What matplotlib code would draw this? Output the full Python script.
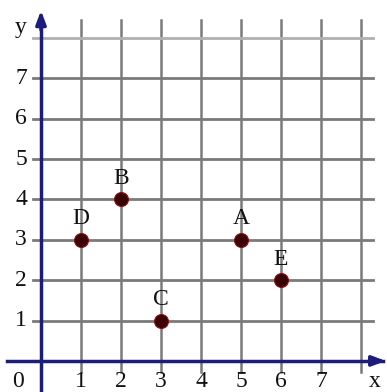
import matplotlib

matplotlib.use("Agg")

import matplotlib.pyplot as plt  # noqa: E402

point_names = ["A", "B", "C", "D", "E"]
point_x = [5, 2, 3, 1, 6]
point_y = [3, 4, 1, 3, 2]
x_ticks = [1, 2, 3, 4, 5, 6, 7]
y_ticks = [1, 2, 3, 4, 5, 6, 7]
grid_max = 8

AXIS_COLOR = "#1c1c7a"
GRID_COLOR = "#7a7a7a"
FONT = ["Liberation Serif", "DejaVu Serif"]

fig = plt.figure(figsize=(3.87, 3.92), dpi=100)
ax = fig.add_axes([0, 0, 1, 1])
ax.set_xlim(-1.025, 8.65)
ax.set_ylim(-0.77, 8.94)
ax.axis("off")

# square grid, the top row drawn lighter
for gx in range(1, grid_max + 1):
    ax.plot([gx, gx], [-0.27, 8.44], color=GRID_COLOR, lw=1.8, zorder=1)
for gy in range(1, grid_max + 1):
    c = "#b0b0b0" if gy == grid_max else GRID_COLOR
    ax.plot([-0.2, 8.3], [gy, gy], color=c, lw=2.0, zorder=1)

# axes with arrow heads
ax.plot([-0.85, 8.55], [0, 0], color=AXIS_COLOR, lw=2.5, zorder=2)
ax.plot([0, 0], [-0.8, 8.3], color=AXIS_COLOR, lw=2.5, zorder=2)
arrow = dict(arrowstyle="-|>,head_length=0.8,head_width=0.3",
             color=AXIS_COLOR, lw=2.5, shrinkA=0, shrinkB=0)
ax.annotate("", xy=(8.62, 0), xytext=(8.2, 0), arrowprops=arrow, zorder=3)
ax.annotate("", xy=(0, 8.68), xytext=(0, 8.2), arrowprops=arrow, zorder=3)

# tick labels
label_kw = dict(ha="center", va="center", fontsize=17, family=FONT,
                color="#111111")
for t in x_ticks:
    ax.text(t, -0.5, str(t), **label_kw)
for t in y_ticks:
    ax.text(-0.5, t, str(t), **label_kw)
ax.text(-0.57, -0.5, "0", **label_kw)
ax.text(8.35, -0.5, "x", **label_kw)
ax.text(-0.52, 8.27, "y", **label_kw)

# labelled points
ax.scatter(point_x, point_y, s=100, color="#3a0006", edgecolors="#8a1010",
           linewidths=0.8, zorder=4)
for name, px, py in zip(point_names, point_x, point_y):
    ax.text(px, py + 0.52, name, zorder=5, **label_kw)

fig.savefig("out.png", dpi=100)
plt.close(fig)
